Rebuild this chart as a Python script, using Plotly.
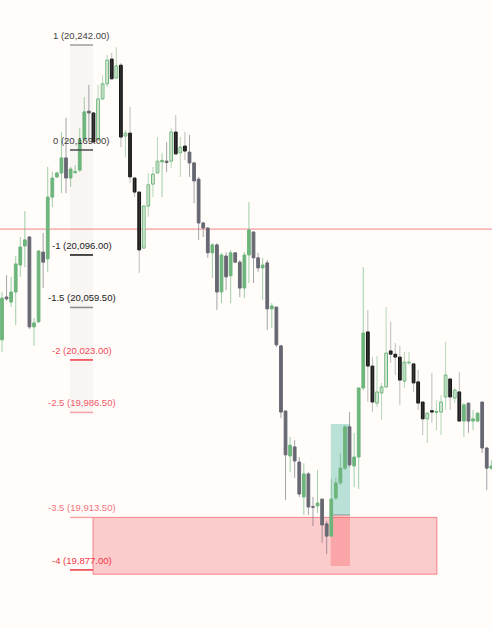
import plotly.graph_objects as go

# ---------------- data ----------------
opens = [20037.0, 20066.75, 20063.25, 20070.25, 20089.0, 20102.25, 20108.5, 20046.0, 20049.5, 20098.0,
         20093.25, 20136.25, 20150.25, 20153.0, 20163.5, 20149.5, 20153.25, 20155.0, 20176.5, 20196.0,
         20194.75, 20176.0, 20204.5, 20215.0, 20232.25, 20219.0, 20228.0, 20178.75, 20180.75, 20149.5,
         20139.75, 20100.75, 20130.0, 20145.25, 20153.0, 20160.75, 20161.25, 20161.25, 20181.5, 20167.0,
         20171.75, 20167.5, 20160.0, 20148.75, 20118.25, 20114.75, 20097.5, 20103.0, 20070.25, 20095.25,
         20081.5, 20097.5, 20091.0, 20073.0, 20096.0, 20112.0, 20094.0, 20087.0, 20090.5, 20058.5,
         20059.75, 20032.75, 19987.5, 19956.25, 19962.5, 19952.0, 19927.75, 19943.75, 19921.0, 19921.5,
         19926.25, 19909.0, 19900.5, 19927.0, 19937.5, 19947.75, 19976.5, 19949.25, 19955.5, 20003.5,
         20042.5, 20018.75, 19993.0, 20000.0, 20004.25, 20029.25, 20027.0, 20025.0, 20008.25, 20021.0,
         20020.25, 20007.75, 19993.75, 19982.0, 19987.75, 19986.5, 19986.75, 19997.25, 20009.75, 19996.5,
         20000.75, 19980.5, 19993.0, 19980.5, 19980.5, 19993.75, 19961.75, 19947.75]
highs = [20070.25, 20082.0, 20080.75, 20095.25, 20108.5, 20126.5, 20109.25, 20052.25, 20099.5, 20111.25,
         20157.25, 20153.75, 20153.75, 20181.5, 20191.25, 20157.25, 20158.5, 20184.25, 20205.75, 20214.25,
         20194.75, 20214.25, 20221.0, 20235.0, 20236.5, 20240.5, 20229.5, 20183.0, 20199.0, 20150.25,
         20139.75, 20130.75, 20153.0, 20157.25, 20178.0, 20167.0, 20174.5, 20184.25, 20193.25, 20178.0,
         20181.5, 20179.5, 20160.75, 20150.25, 20119.0, 20115.5, 20104.25, 20104.25, 20097.5, 20098.0,
         20099.5, 20098.0, 20092.5, 20098.0, 20132.75, 20112.0, 20097.5, 20094.0, 20092.5, 20062.5,
         20059.75, 20033.5, 19987.5, 19969.5, 19967.25, 19955.5, 19951.25, 19945.0, 19927.75, 19946.5,
         19926.25, 19911.0, 19940.25, 19941.0, 19958.25, 19977.75, 19986.75, 19972.25, 20003.5, 20087.5,
         20057.75, 20025.0, 20025.75, 20007.0, 20059.75, 20049.5, 20034.75, 20032.75, 20028.5, 20028.5,
         20021.0, 20016.0, 19993.75, 19986.75, 20014.0, 19995.0, 19998.5, 20035.5, 20010.5, 20003.5,
         20014.5, 19993.0, 19993.0, 19988.25, 19986.75, 19993.75, 19962.5, 19953.5]
lows = [20028.5, 20064.0, 20059.75, 20047.25, 20080.75, 20087.5, 20044.5, 20032.75, 20048.75, 20073.0,
        20084.25, 20129.25, 20149.5, 20139.0, 20139.0, 20143.25, 20152.25, 20153.75, 20176.0, 20176.0,
        20174.0, 20176.0, 20203.75, 20212.75, 20217.75, 20219.0, 20171.0, 20164.0, 20146.0, 20136.25,
        20083.5, 20100.75, 20122.5, 20136.25, 20153.0, 20136.25, 20153.75, 20156.5, 20165.5, 20150.25,
        20162.0, 20150.25, 20132.0, 20106.5, 20108.5, 20094.0, 20080.0, 20057.75, 20062.5, 20071.5,
        20062.5, 20090.5, 20066.75, 20066.0, 20076.5, 20076.5, 20084.25, 20064.75, 20043.75, 20045.25,
        20032.0, 19982.5, 19925.5, 19945.0, 19941.0, 19927.75, 19915.25, 19915.25, 19907.5, 19916.5,
        19895.75, 19888.0, 19900.0, 19925.5, 19936.0, 19946.5, 19948.5, 19934.5, 19933.25, 20002.0,
        19993.75, 19986.75, 19990.25, 19981.25, 20003.5, 20021.0, 20012.5, 19991.75, 20003.5, 20019.5,
        20000.75, 19988.25, 19970.75, 19965.25, 19979.25, 19974.25, 19970.75, 19988.25, 19988.25, 19993.0,
        19979.75, 19969.5, 19972.25, 19974.25, 19979.75, 19958.25, 19932.5, 19946.5]
closes = [20066.0, 20065.5, 20070.25, 20089.75, 20101.5, 20106.5, 20046.0, 20048.75, 20098.75, 20091.0,
          20136.25, 20149.5, 20153.0, 20163.5, 20149.5, 20155.75, 20154.0, 20176.0, 20195.5, 20194.75,
          20174.5, 20204.5, 20215.0, 20231.5, 20218.5, 20227.5, 20178.0, 20180.75, 20150.25, 20139.75,
          20099.5, 20130.0, 20144.75, 20152.25, 20161.25, 20161.75, 20160.25, 20181.5, 20166.25, 20171.0,
          20168.25, 20160.0, 20147.5, 20118.25, 20114.75, 20097.5, 20103.0, 20070.25, 20096.0, 20080.75,
          20097.5, 20091.0, 20073.0, 20096.0, 20113.5, 20094.0, 20087.0, 20089.0, 20058.5, 20060.5,
          20033.5, 19986.75, 19957.0, 19963.75, 19952.75, 19929.75, 19943.75, 19920.75, 19920.5, 19923.5,
          19908.25, 19900.5, 19926.25, 19937.5, 19947.75, 19976.5, 19950.0, 19955.5, 20003.5, 20041.75,
          20018.75, 19993.75, 20000.75, 20004.25, 20027.75, 20027.0, 20025.0, 20009.0, 20021.5, 20021.5,
          20007.0, 19993.0, 19982.0, 19986.0, 19986.75, 19987.25, 19993.75, 20012.5, 19997.25, 20002.0,
          19980.5, 19991.75, 19980.5, 19982.0, 19986.0, 19961.75, 19947.75, 19949.25]
# candle style per bar: "a" = filled green/grey, "b" = hollow green/black
styles = "a" * 20 + "b" * 15 + "aa" + "bbbb" + "a" * 39 + "b" * 21 + "a" * 7

fib_levels = [1, 0, -1, -1.5, -2, -2.5, -3.5, -4]
fib_prices = [20242.0, 20169.0, 20096.0, 20059.5, 20023.0, 19986.5, 19913.5, 19877.0]
fib_line_colors = ["#9e9e9e", "#4a4a4a", "#111111", "#8c8c8c", "#f23645", "#f7a3aa", "#f7a3aa", "#f23645"]
fib_text_colors = ["#444444", "#3a3a3a", "#222222", "#222222", "#f2495a", "#f15a6a", "#f17480", "#f23645"]
fib_x = (14.87, 19.9)

hline_price = 20114.0
zone = dict(x0=19.9, x1=95.1, y0=19874.0, y1=19913.5)
position = dict(x0=71.9, x1=76.1, entry=19915.2, target=19978.5, stop=19879.7)

# ---------------- colours ----------------
BG = "#fffcf9"
GREEN = "#6db57c"
GREY = "#686873"
BLACK = "#151515"

n = len(opens)
xs = list(range(n))

fig = go.Figure()

# wicks
for st, inc_c, dec_c in [("a", "rgba(109,181,124,0.65)", "rgba(104,104,115,0.6)"),
                         ("b", "rgba(109,181,124,0.5)", "rgba(110,110,110,0.45)")]:
    idx = [i for i in xs if styles[i] == st]
    fig.add_trace(go.Ohlc(
        x=idx,
        open=[opens[i] for i in idx], high=[highs[i] for i in idx],
        low=[lows[i] for i in idx], close=[closes[i] for i in idx],
        tickwidth=0,
        increasing=dict(line=dict(color=inc_c, width=1)),
        decreasing=dict(line=dict(color=dec_c, width=1)),
        hoverinfo="skip", showlegend=False))

# bodies
fills, outlines = [], []
for i in xs:
    up = closes[i] >= opens[i]
    if styles[i] == "a":
        c = GREEN if up else GREY
        fills.append(c)
        outlines.append(c)
    else:
        fills.append(BG if up else BLACK)
        outlines.append(GREEN if up else BLACK)

fig.add_trace(go.Bar(
    x=xs,
    base=[min(o, c) for o, c in zip(opens, closes)],
    y=[abs(c - o) for o, c in zip(opens, closes)],
    width=0.6,
    marker=dict(color=fills, line=dict(color=outlines, width=1)),
    hoverinfo="skip", showlegend=False))

shapes = []
# fib band
shapes.append(dict(type="rect", xref="x", yref="y", x0=fib_x[0], x1=fib_x[1],
                   y0=fib_prices[5], y1=fib_prices[0], fillcolor="rgba(0,0,0,0.028)",
                   line=dict(width=0), layer="below"))
# horizontal red line
shapes.append(dict(type="line", xref="paper", yref="y", x0=0, x1=1, y0=hline_price, y1=hline_price,
                   line=dict(color="rgba(242,54,69,0.6)", width=1), layer="below"))
# red zone
shapes.append(dict(type="rect", xref="x", yref="y", x0=zone["x0"], x1=zone["x1"],
                   y0=zone["y0"], y1=zone["y1"], fillcolor="rgba(242,54,69,0.25)",
                   line=dict(color="rgba(242,54,69,0.55)", width=1), layer="below"))
# position tool
shapes.append(dict(type="rect", xref="x", yref="y", x0=position["x0"], x1=position["x1"],
                   y0=position["entry"], y1=position["target"], fillcolor="rgba(8,153,129,0.28)",
                   line=dict(width=0), layer="below"))
shapes.append(dict(type="rect", xref="x", yref="y", x0=position["x0"], x1=position["x1"],
                   y0=position["stop"], y1=position["entry"], fillcolor="rgba(242,54,69,0.25)",
                   line=dict(width=0), layer="below"))
shapes.append(dict(type="line", xref="x", yref="y", x0=position["x0"], x1=position["x1"],
                   y0=position["entry"], y1=position["entry"],
                   line=dict(color="rgba(120,120,120,0.7)", width=1), layer="below"))
# fib lines
for p, lc in zip(fib_prices, fib_line_colors):
    shapes.append(dict(type="line", xref="x", yref="y", x0=fib_x[0], x1=fib_x[1], y0=p, y1=p,
                       line=dict(color=lc, width=1.5)))

annotations = []
for lvl, p, tc in zip(fib_levels, fib_prices, fib_text_colors):
    annotations.append(dict(x=(fib_x[0] + fib_x[1]) / 2, y=p, xref="x", yref="y",
                            text=f"{lvl:g} ({p:,.2f})", showarrow=False,
                            xanchor="center", yanchor="bottom", yshift=2,
                            font=dict(family="Liberation Sans Narrow, Liberation Sans, sans-serif",
                                      size=9.5, color=tc)))

fig.update_layout(
    width=492, height=629,
    margin=dict(l=0, r=0, t=0, b=0),
    paper_bgcolor=BG, plot_bgcolor=BG,
    shapes=shapes, annotations=annotations,
    showlegend=False, hovermode=False, barmode="overlay",
    xaxis=dict(range=[-0.437, 107.15], visible=False, rangeslider=dict(visible=False), fixedrange=True),
    yaxis=dict(range=[19835.9, 20273.3], visible=False, fixedrange=True),
)

fig.write_html(
    "out.html",
    config={"displayModeBar": False, "responsive": False},
    post_script=("document.body.style.margin='0';document.body.style.padding='0';"
                 "document.body.style.overflow='hidden';"
                 "document.documentElement.style.background='" + BG + "';"),
)
